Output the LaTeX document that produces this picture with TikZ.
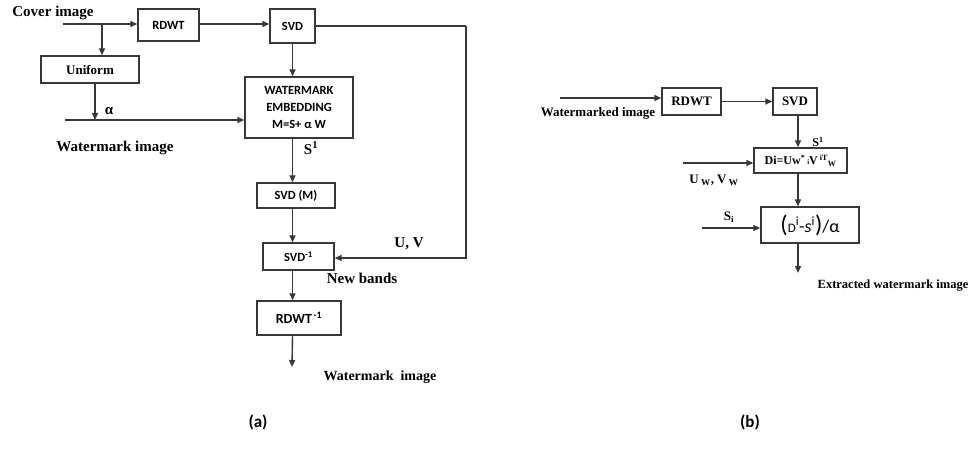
\documentclass[tikz,border=0pt]{standalone}
\usepackage{fontspec}
\setmainfont{Liberation Serif}
\newfontfamily\calib{Carlito}
\usetikzlibrary{arrows.meta,positioning,calc}
\definecolor{Ink}{HTML}{383838}

\tikzset{
  box/.style={draw=Ink,line width=1.4pt,inner sep=1pt,align=center},
  sbox/.style={box,font=\calib\bfseries\fontsize{12.5}{17}\selectfont},
  rbox/.style={box,font=\bfseries\fontsize{13}{15}\selectfont},
  arr/.style={draw=Ink,line width=1.4pt,-{Triangle[length=7pt,width=6pt]}},
  lne/.style={draw=Ink,line width=1.4pt},
  lbl/.style={font=\bfseries\fontsize{15}{17}\selectfont,inner sep=0pt},
  panelcap/.style={font=\calib\bfseries\fontsize{17}{19}\selectfont,inner sep=0pt}
}

\begin{document}
\begin{tikzpicture}[x=1pt,y=-1pt]
  \useasboundingbox[fill=white] (0,0) rectangle (978,468);

  % (a) embedding
  \node[sbox,minimum width=61,minimum height=32] (rdwt) at (168.5,25) {RDWT};
  \node[sbox,minimum width=45,minimum height=34] (svd) at (292.5,26) {SVD};
  \node[rbox,minimum width=98,minimum height=27] (unif) at (90,69.5) {Uniform};
  \node[sbox,minimum width=108,minimum height=61] (embed) at (299,107.5)
    {WATERMARK\\ EMBEDDING\\ M=S+ α W};
  \node[sbox,minimum width=78,minimum height=25] (svdm) at (296,195.5) {SVD (M)};
  \node[sbox,minimum width=71,minimum height=27] (svdinv) at (298.5,256.5)
    {SVD\textsuperscript{-1}};
  \node[sbox,font=\calib\bfseries\fontsize{14}{16}\selectfont,
        minimum width=84,minimum height=34] (rdwtinv) at (299,318)
    {RDWT\textsuperscript{\,-1}};

  \coordinate (cin) at (63,24);
  \coordinate (br) at (102,24);
  \coordinate (win) at (65,120);
  \coordinate (fb) at (466,26);
  \coordinate (aout) at (292,367);

  \draw[arr] (cin) -- (cin -| rdwt.west);
  \draw[arr] (br) -- (br |- unif.north);
  \draw[arr] (rdwt.east |- cin) -- (svd.west |- cin);
  \draw[arr] ([xshift=5]unif.south) -- ([xshift=5]unif.south |- win);
  \draw[arr] (win) -- (win -| embed.west);
  \draw[arr] (svd.south) -- (svd |- embed.north);
  \draw[arr] (svd |- embed.south) -- (svd |- svdm.north);
  \draw[arr] (svd |- svdm.south) -- (svd |- svdinv.north);
  \draw[arr] (svd |- svdinv.south) -- (svd |- rdwtinv.north);
  \draw[arr] (svd |- rdwtinv.south) -- (aout);
  \draw[lne] (svd.east) -- (fb);
  \draw[arr] (fb) |- ([yshift=-1.5]svdinv.east);

  \node[lbl] (lcover) at (53,13) {Cover image};
  \node[lbl] (lalpha) at (109,111) {α};
  \node[lbl] (lwmin) at (115,148) {Watermark image};
  \node[lbl] (ls1) at (311,148) {S\textsuperscript{1}};
  \node[lbl] (luv) at (409,244) {U, V};
  \node[lbl] (lnew) at (362,278) {New bands};
  \node[lbl,font=\bfseries\fontsize{14}{16}\selectfont] (lwmout) at (380,377)
    {Watermark\ \ image};

  % (b) extraction
  \node[rbox,minimum width=59,minimum height=27] (brdwt) at (691.5,101.5) {RDWT};
  \node[rbox,minimum width=44,minimum height=27] (bsvd) at (795,101.5) {SVD};
  \node[box,font=\bfseries\fontsize{12}{14}\selectfont,
        minimum width=93,minimum height=25] (di) at (800.5,160.5)
    {Di=Uw\textsuperscript{*}\,{\scriptsize i}V\,\textsuperscript{iT}\textsubscript{W}};
  \node[box,font=\calib\fontsize{18}{20}\selectfont,
        minimum width=98,minimum height=36] (dsa) at (810,225)
    {{\fontsize{24}{24}\selectfont(}{\fontsize{13}{13}\selectfont D}\textsuperscript{i}-\textit{s}\textsuperscript{i}{\fontsize{24}{24}\selectfont)}/α};

  \coordinate (bin) at (560,98);
  \coordinate (uin) at (683,163);
  \coordinate (sin) at (702,228);
  \coordinate (bout) at (798,273);

  \draw[arr] (bin) -- (bin -| brdwt.west);
  \draw[arr] (brdwt.east) -- (bsvd.west);
  \draw[arr] ([xshift=3]bsvd.south) -- ([xshift=3]bsvd.south |- di.north);
  \draw[arr] (uin) -- (uin -| di.west);
  \draw[arr] ([xshift=3]bsvd.south |- di.south) -- ([xshift=3]bsvd.south |- dsa.north);
  \draw[arr] (sin) -- (sin -| dsa.west);
  \draw[arr] ([xshift=3]bsvd.south |- dsa.south) -- (bout);

  \node[lbl,font=\bfseries\fontsize{13}{15}\selectfont] (lwmd) at (598,113) {Watermarked image};
  \node[lbl,font=\bfseries\fontsize{12}{14}\selectfont] (lbs1) at (818,142) {S\textsuperscript{1}};
  \node[lbl,font=\bfseries\fontsize{13}{15}\selectfont] (luw) at (714,180)
    {U\textsubscript{ W}, V\textsubscript{ W}};
  \node[lbl,font=\bfseries\fontsize{13}{15}\selectfont] (lsi) at (729,217) {S\textsubscript{i}};
  \node[lbl,font=\bfseries\fontsize{12.5}{14}\selectfont] (lext) at (893,286)
    {Extracted watermark\ image};

  \node[panelcap] (capa) at (258,422) {(a)};
  \node[panelcap] (capb) at (750,422) {(b)};
\end{tikzpicture}
\end{document}
